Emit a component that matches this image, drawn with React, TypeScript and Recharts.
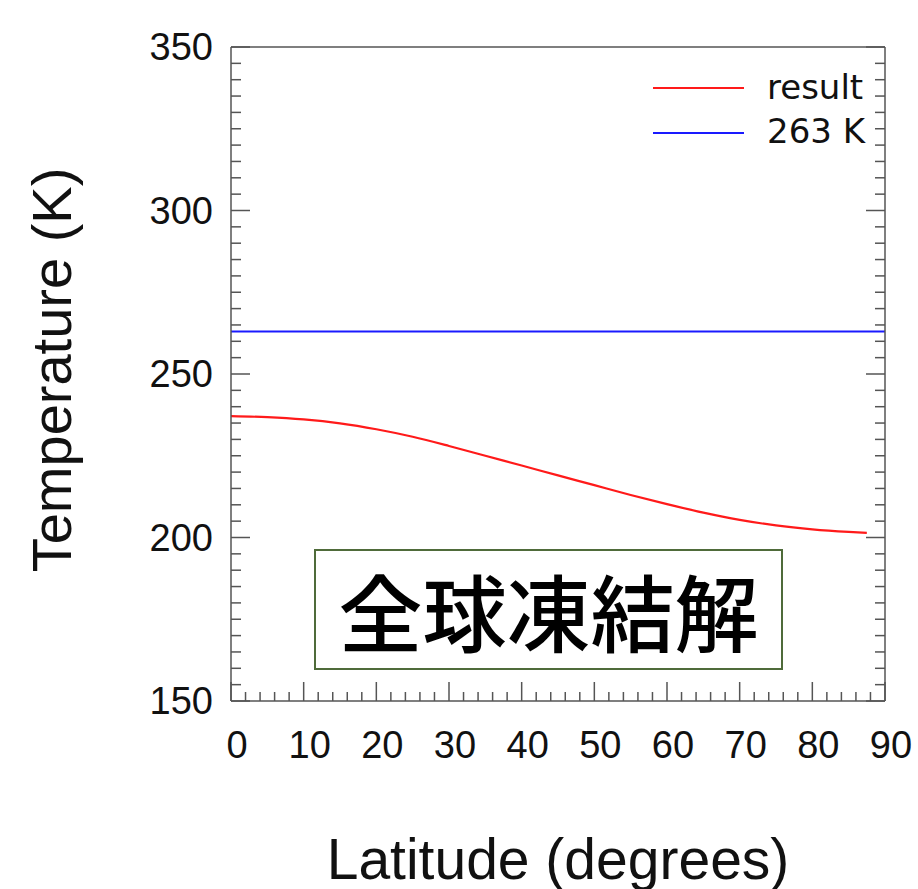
import { LineChart, Line, XAxis, YAxis, Legend } from 'recharts'

const latitudes = [0, 5, 10, 15, 20, 25, 30, 35, 40, 45, 50, 55, 60, 65, 70, 75, 80, 85, 87.5]
const resultTemp = [
  237.1, 236.8, 236.1, 234.9, 233.1, 230.8, 228.0, 225.0, 222.0, 219.0, 216.0, 213.0, 210.2,
  207.6, 205.4, 203.7, 202.5, 201.7, 201.4,
]
const freezeLat = [0, 90]
const freezeTemp = [263, 263]

const xMajor = [0, 10, 20, 30, 40, 50, 60, 70, 80, 90]
const yMajor = [150, 200, 250, 300, 350]
const xTicks = Array.from({ length: 46 }, (_, i) => i * 2)
const yTicks = Array.from({ length: 41 }, (_, i) => 150 + i * 5)

const resultData = latitudes.map((lat, i) => ({ lat, temp: resultTemp[i] }))
const freezeData = freezeLat.map((lat, i) => ({ lat, temp: freezeTemp[i] }))

const AXIS = '#555'
const FONT = '"Liberation Sans", Arial, sans-serif'

function BottomTick({ x, y, payload }: any) {
  const major = xMajor.includes(payload.value)
  return (
    <g>
      <line x1={x} x2={x} y1={y} y2={y - (major ? 19 : 9)} stroke={AXIS} strokeWidth={1.5} />
      {major && (
        <text x={x + 6} y={y + 57} textAnchor="middle" fontSize={38} fontFamily={FONT} fill="#111">
          {payload.value}
        </text>
      )}
    </g>
  )
}

function TopTick({ x, y, payload }: any) {
  const major = xMajor.includes(payload.value)
  return <line x1={x} x2={x} y1={y} y2={y + (major ? 19 : 9)} stroke={AXIS} strokeWidth={1.5} />
}

function LeftTick({ x, y, payload }: any) {
  const major = yMajor.includes(payload.value)
  return (
    <g>
      <line x1={x} x2={x + (major ? 19 : 10)} y1={y} y2={y} stroke={AXIS} strokeWidth={1.5} />
      {major && (
        <text x={x - 18} y={y} textAnchor="end" dominantBaseline="central" fontSize={38} fontFamily={FONT} fill="#111">
          {payload.value}
        </text>
      )}
    </g>
  )
}

function RightTick({ x, y, payload }: any) {
  const major = yMajor.includes(payload.value)
  return <line x1={x} x2={x - (major ? 19 : 10)} y1={y} y2={y} stroke={AXIS} strokeWidth={1.5} />
}

function LegendBox() {
  const font = '"DejaVu Sans", sans-serif'
  return (
    <svg width={240} height={100}>
      <line x1={13} x2={104} y1={28} y2={28} stroke="#ff1a1a" strokeWidth={2} />
      <text x={127} y={39} fontSize={34} fontFamily={font} fill="#111">result</text>
      <line x1={13} x2={104} y1={73} y2={73} stroke="#1a1aff" strokeWidth={2} />
      <text x={127} y={83} fontSize={34} fontFamily={font} fill="#111">263 K</text>
    </svg>
  )
}

export default function App() {
  return (
    <div style={{ position: 'absolute', left: 0, top: 0, width: 918, height: 889, background: '#fff' }}>
      <LineChart width={918} height={889} margin={{ top: 0, right: 0, bottom: 0, left: 0 }}>
        <XAxis
          xAxisId="top"
          orientation="top"
          type="number"
          domain={[0, 90]}
          allowDataOverflow
          ticks={xTicks}
          interval={0}
          height={47}
          tickSize={0}
          tickMargin={0}
          tickLine={false}
          axisLine={{ stroke: AXIS, strokeWidth: 1.5 }}
          tick={<TopTick />}
        />
        <XAxis
          xAxisId="bottom"
          dataKey="lat"
          type="number"
          domain={[0, 90]}
          allowDataOverflow
          ticks={xTicks}
          interval={0}
          height={188}
          tickSize={0}
          tickMargin={0}
          tickLine={false}
          axisLine={{ stroke: AXIS, strokeWidth: 1.5 }}
          tick={<BottomTick />}
          label={{
            content: ({ viewBox }: any) => (
              <text
                x={viewBox.x + viewBox.width / 2}
                y={879}
                textAnchor="middle"
                fontSize={57}
                fontFamily={FONT}
                fill="#111"
              >
                Latitude (degrees)
              </text>
            ),
          }}
        />
        <YAxis
          yAxisId="left"
          type="number"
          domain={[150, 350]}
          allowDataOverflow
          ticks={yTicks}
          interval={0}
          width={231}
          tickSize={0}
          tickMargin={0}
          tickLine={false}
          axisLine={{ stroke: AXIS, strokeWidth: 1.5 }}
          tick={<LeftTick />}
          label={{
            content: ({ viewBox }: any) => {
              const cx = 51
              const cy = viewBox.y + viewBox.height / 2 - 4
              return (
                <text
                  x={cx}
                  y={cy}
                  transform={`rotate(-90 ${cx} ${cy})`}
                  textAnchor="middle"
                  dominantBaseline="central"
                  fontSize={56}
                  fontFamily={FONT}
                  fill="#111"
                >
                  Temperature (K)
                </text>
              )
            },
          }}
        />
        <YAxis
          yAxisId="right"
          orientation="right"
          type="number"
          domain={[150, 350]}
          allowDataOverflow
          ticks={yTicks}
          interval={0}
          width={33}
          tickSize={0}
          tickMargin={0}
          tickLine={false}
          axisLine={{ stroke: AXIS, strokeWidth: 1.5 }}
          tick={<RightTick />}
        />
        <Legend
          layout="horizontal"
          verticalAlign="middle"
          align="center"
          wrapperStyle={{ left: 640, top: 60, width: 240, height: 100 }}
          content={() => <LegendBox />}
        />
        <Line
          xAxisId="bottom"
          yAxisId="left"
          data={freezeData}
          dataKey="temp"
          name="263 K"
          type="linear"
          stroke="#1a1aff"
          strokeWidth={2}
          dot={false}
          isAnimationActive={false}
        />
        <Line
          xAxisId="bottom"
          yAxisId="left"
          data={resultData}
          dataKey="temp"
          name="result"
          type="monotone"
          stroke="#ff1a1a"
          strokeWidth={2.2}
          dot={false}
          isAnimationActive={false}
        />
      </LineChart>
      <div
        style={{
          position: 'absolute',
          left: 314,
          top: 549,
          width: 465,
          height: 117,
          border: '2px solid #4f6b3a',
          background: '#fff',
          display: 'flex',
          alignItems: 'center',
          justifyContent: 'center',
          fontFamily: '"Noto Sans CJK JP", sans-serif',
          fontSize: 84,
          fontWeight: 500,
          lineHeight: 1,
          color: '#000',
        }}
      >
        全球凍結解
      </div>
    </div>
  )
}
